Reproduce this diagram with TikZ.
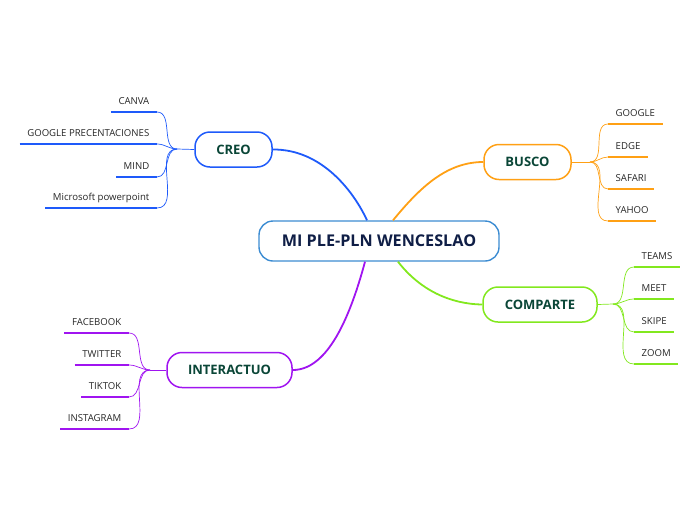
\documentclass[tikz,border=0pt]{standalone}
\usepackage{fontspec}
\setmainfont{Open Sans}
\definecolor{creoblue}{RGB}{30,90,250}
\definecolor{buscoorange}{RGB}{255,160,20}
\definecolor{compgreen}{RGB}{130,232,30}
\definecolor{interpurple}{RGB}{160,20,240}
\definecolor{topicgreen}{RGB}{10,70,55}
\definecolor{mainnavy}{RGB}{15,30,70}
\definecolor{mainblue}{RGB}{60,140,210}
\begin{document}
\begin{tikzpicture}[x=1pt,y=-1pt,
  topic/.style={draw,line width=1.5pt,fill=white,rounded corners=15pt,minimum height=35pt,
    text=topicgreen,font=\fontsize{13}{15}\selectfont\bfseries},
  leaf/.style={inner xsep=7.5pt,inner ysep=7.5pt,text height=7pt,text depth=0pt,
    font=\fontsize{9.6}{11}\selectfont,text=black!85},
  mainline/.style={line width=1.8pt},
  subline/.style={line width=0.7pt},
  underline/.style={line width=2.6pt}]
\useasboundingbox (0,0) rectangle (696,520);
% centre
\node[draw=mainblue,line width=1.4pt,fill=white,rounded corners=14pt,minimum width=240pt,minimum height=40pt,
  text=mainnavy,font=\fontsize{16.2}{19}\selectfont\bfseries] (ple) at (379,241) {MI PLE-PLN WENCESLAO};
% topics
\node[topic,draw=creoblue,minimum width=77pt] (creo) at (233.5,149.5) {CREO};
\node[topic,draw=buscoorange,minimum width=87pt] (busco) at (527.5,162) {BUSCO};
\node[topic,draw=compgreen,minimum width=114pt] (comparte) at (540,304.5) {COMPARTE};
\node[topic,draw=interpurple,minimum width=125pt] (interactuo) at (229.5,370) {INTERACTUO};
% main branches
\draw[creoblue,mainline] (creo.east) .. controls (322,149) and (354,192) .. ([xshift=-12pt]ple.north);
\draw[buscoorange,mainline] ([xshift=14pt]ple.north) .. controls (418,190) and (445,162) .. (busco.west);
\draw[compgreen,mainline] ([xshift=19pt]ple.south) .. controls (420,290) and (450,304) .. (comparte.west);
\draw[interpurple,mainline] ([xshift=-14pt]ple.south) .. controls (348,325) and (325,370) .. (interactuo.east);
% CREO
\coordinate (creohub) at (177,149);
\node[leaf,anchor=south east] (canva) at (157,112) {CANVA};
\node[leaf,anchor=south east] (gpres) at (157,144) {GOOGLE PRECENTACIONES};
\node[leaf,anchor=south east] (mind) at (157,177) {MIND};
\node[leaf,anchor=south east] (mspp) at (157,208) {Microsoft powerpoint};
\draw[creoblue,subline] (creo.west) -- (creohub);
\draw[creoblue,subline] (creohub) to[out=180,in=0] (canva.south east);
\draw[creoblue,subline] (creohub) to[out=180,in=0] (gpres.south east);
\draw[creoblue,subline] (creohub) to[out=180,in=0] (mind.south east);
\draw[creoblue,subline] (creohub) to[out=180,in=0] (mspp.south east);
\draw[creoblue,underline] (canva.south west) -- (canva.south east);
\draw[creoblue,underline] (gpres.south west) -- (gpres.south east);
\draw[creoblue,underline] (mind.south west) -- (mind.south east);
\draw[creoblue,underline] (mspp.south west) -- (mspp.south east);
% BUSCO
\coordinate (buscohub) at (590,162);
\node[leaf,anchor=south west] (google) at (608,124) {GOOGLE};
\node[leaf,anchor=south west] (edge) at (608,157) {EDGE};
\node[leaf,anchor=south west] (safari) at (608,189) {SAFARI};
\node[leaf,anchor=south west] (yahoo) at (608,221) {YAHOO};
\draw[buscoorange,subline] (busco.east) -- (buscohub);
\draw[buscoorange,subline] (buscohub) to[out=0,in=180] (google.south west);
\draw[buscoorange,subline] (buscohub) to[out=0,in=180] (edge.south west);
\draw[buscoorange,subline] (buscohub) to[out=0,in=180] (safari.south west);
\draw[buscoorange,subline] (buscohub) to[out=0,in=180] (yahoo.south west);
\draw[buscoorange,underline] (google.south west) -- (google.south east);
\draw[buscoorange,underline] (edge.south west) -- (edge.south east);
\draw[buscoorange,underline] (safari.south west) -- (safari.south east);
\draw[buscoorange,underline] (yahoo.south west) -- (yahoo.south east);
% COMPARTE
\coordinate (comphub) at (613,304);
\node[leaf,anchor=south west] (teams) at (634,267) {TEAMS};
\node[leaf,anchor=south west] (meet) at (634,299) {MEET};
\node[leaf,anchor=south west] (skipe) at (634,332) {SKIPE};
\node[leaf,anchor=south west] (zoom) at (634,364) {ZOOM};
\draw[compgreen,subline] (comparte.east) -- (comphub);
\draw[compgreen,subline] (comphub) to[out=0,in=180] (teams.south west);
\draw[compgreen,subline] (comphub) to[out=0,in=180] (meet.south west);
\draw[compgreen,subline] (comphub) to[out=0,in=180] (skipe.south west);
\draw[compgreen,subline] (comphub) to[out=0,in=180] (zoom.south west);
\draw[compgreen,underline] (teams.south west) -- (teams.south east);
\draw[compgreen,underline] (meet.south west) -- (meet.south east);
\draw[compgreen,underline] (skipe.south west) -- (skipe.south east);
\draw[compgreen,underline] (zoom.south west) -- (zoom.south east);
% INTERACTUO
\coordinate (interhub) at (150,370);
\node[leaf,anchor=south east] (facebook) at (129,333) {FACEBOOK};
\node[leaf,anchor=south east] (twitter) at (129,365) {TWITTER};
\node[leaf,anchor=south east] (tiktok) at (129,397) {TIKTOK};
\node[leaf,anchor=south east] (instagram) at (129,429) {INSTAGRAM};
\draw[interpurple,subline] (interactuo.west) -- (interhub);
\draw[interpurple,subline] (interhub) to[out=180,in=0] (facebook.south east);
\draw[interpurple,subline] (interhub) to[out=180,in=0] (twitter.south east);
\draw[interpurple,subline] (interhub) to[out=180,in=0] (tiktok.south east);
\draw[interpurple,subline] (interhub) to[out=180,in=0] (instagram.south east);
\draw[interpurple,underline] (facebook.south west) -- (facebook.south east);
\draw[interpurple,underline] (twitter.south west) -- (twitter.south east);
\draw[interpurple,underline] (tiktok.south west) -- (tiktok.south east);
\draw[interpurple,underline] (instagram.south west) -- (instagram.south east);
\end{tikzpicture}
\end{document}
